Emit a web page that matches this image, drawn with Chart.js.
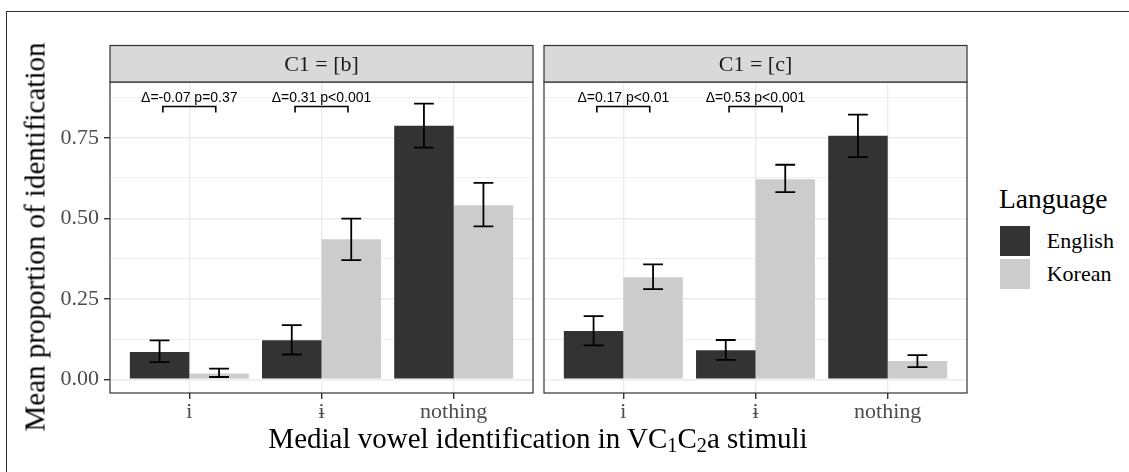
<!DOCTYPE html>
<html lang="en">
<head>
<meta charset="UTF-8">
<title>Medial vowel identification</title>
<script src="https://cdn.jsdelivr.net/npm/chart.js"></script>
<style>
  body { margin: 0; background: #fff; }
  #page { position: relative; width: 1129px; height: 472px; overflow: hidden; font-family: 'Liberation Serif', 'DejaVu Serif', serif; }
  #frame { position: absolute; left: 6px; top: 11px; width: 1130px; height: 470px; border-top: 1.5px solid #333; border-left: 1.5px solid #333; }
  canvas { position: absolute; top: 0; }
  .txt { position: absolute; white-space: nowrap; line-height: 1; color: #000; }
  .key { position: absolute; width: 30px; height: 30px; }
  sub { font-size: 0.7em; line-height: 0; vertical-align: -0.22em; }
</style>
</head>
<body>
<div id="page">
  <div id="frame"></div>
  <canvas id="panelB" width="540" height="472" style="left:0"></canvas>
  <canvas id="panelC" width="440" height="472" style="left:540px"></canvas>
  <div class="txt" id="ytitle" style="left:35px; top:237px; font-size:29px; transform:translate(-50%,-50%) rotate(-90deg);">Mean proportion of identification</div>
  <div class="txt" id="xtitle" style="left:538px; top:423.7px; font-size:29px; transform:translateX(-50%);">Medial vowel identification in VC<sub>1</sub>C<sub>2</sub>a stimuli</div>
  <div id="legend"></div>
</div>

<script>
  // categories and series
  const categories = ['i', 'ɨ', 'nothing'];
  const languages = ['English', 'Korean'];
  const legendTitle = 'Language';
  const fills = ['#333333', '#CCCCCC'];

  // C1 = [b]
  const bEnglish   = [0.085, 0.121, 0.787];
  const bEnglishLo = [0.053, 0.077, 0.719];
  const bEnglishHi = [0.121, 0.168, 0.856];
  const bKorean    = [0.018, 0.435, 0.540];
  const bKoreanLo  = [0.007, 0.370, 0.475];
  const bKoreanHi  = [0.033, 0.499, 0.610];
  const bNotes = ['Δ=-0.07 p=0.37', 'Δ=0.31 p<0.001', ''];

  // C1 = [c]
  const cEnglish   = [0.150, 0.090, 0.756];
  const cEnglishLo = [0.105, 0.060, 0.690];
  const cEnglishHi = [0.196, 0.122, 0.822];
  const cKorean    = [0.317, 0.621, 0.057];
  const cKoreanLo  = [0.280, 0.581, 0.038];
  const cKoreanHi  = [0.357, 0.666, 0.075];
  const cNotes = ['Δ=0.17 p<0.01', 'Δ=0.53 p<0.001', ''];

  const yTicks = [0, 0.125, 0.25, 0.375, 0.5, 0.625, 0.75, 0.875];
  const yMajor = [0, 0.25, 0.5, 0.75];

  const isMajor = v => yMajor.some(m => Math.abs(m - v) < 1e-9);

  // strip, panel border, error bars and the Δ brackets
  const facetPlugin = {
    id: 'facet',
    afterDraw(chart, args, opts) {
      const ctx = chart.ctx;
      const a = chart.chartArea;
      const xs = chart.scales.x, ys = chart.scales.y;

      // error bars
      ctx.save();
      ctx.strokeStyle = '#000';
      ctx.lineWidth = 1.8;
      const half = xs.getPixelForValue(1.075) - xs.getPixelForValue(1);
      for (let d = 0; d < 2; d++) {
        const meta = chart.getDatasetMeta(d);
        meta.data.forEach((bar, j) => {
          const y1 = ys.getPixelForValue(opts.lo[d][j]);
          const y2 = ys.getPixelForValue(opts.hi[d][j]);
          ctx.beginPath();
          ctx.moveTo(bar.x, y1); ctx.lineTo(bar.x, y2);
          ctx.moveTo(bar.x - half, y1); ctx.lineTo(bar.x + half, y1);
          ctx.moveTo(bar.x - half, y2); ctx.lineTo(bar.x + half, y2);
          ctx.stroke();
        });
      }

      // brackets with labels
      ctx.font = '14px "Liberation Sans", Arial, sans-serif';
      ctx.fillStyle = '#000';
      ctx.textAlign = 'center';
      ctx.textBaseline = 'alphabetic';
      ctx.lineWidth = 1.6;
      opts.notes.forEach((txt, j) => {
        if (!txt) return;
        const c = j + 1;
        const x1 = xs.getPixelForValue(c - 0.2), x2 = xs.getPixelForValue(c + 0.2);
        const yl = ys.getPixelForValue(0.847), yt = ys.getPixelForValue(0.828);
        ctx.beginPath();
        ctx.moveTo(x1, yt); ctx.lineTo(x1, yl); ctx.lineTo(x2, yl); ctx.lineTo(x2, yt);
        ctx.stroke();
        ctx.fillText(txt, xs.getPixelForValue(c), ys.getPixelForValue(0.861));
      });

      // panel border
      ctx.strokeStyle = '#333';
      ctx.lineWidth = 1.2;
      ctx.strokeRect(a.left, a.top, a.right - a.left, a.bottom - a.top);

      // strip
      const sTop = 45.5;
      ctx.fillStyle = '#D9D9D9';
      ctx.fillRect(a.left, sTop, a.right - a.left, a.top - sTop);
      ctx.strokeRect(a.left, sTop, a.right - a.left, a.top - sTop);
      ctx.fillStyle = '#1A1A1A';
      ctx.font = '22px "Liberation Serif", serif';
      ctx.textBaseline = 'middle';
      ctx.fillText(opts.strip, (a.left + a.right) / 2, (sTop + a.top) / 2 + 1);
      ctx.restore();
    }
  };

  function makePanel(id, strip, eng, kor, lo, hi, notes, first) {
    const toPts = vals => vals.map((v, i) => ({x: i + 1, y: v}));
    return new Chart(document.getElementById(id), {
      type: 'bar',
      data: {
        datasets: [
          {label: languages[0], data: toPts(eng), backgroundColor: fills[0]},
          {label: languages[1], data: toPts(kor), backgroundColor: fills[1]}
        ]
      },
      options: {
        responsive: false,
        animation: false,
        events: [],
        categoryPercentage: 0.9,
        barPercentage: 1.0,
        layout: {padding: {top: 82, bottom: 0, left: first ? 0 : 4, right: first ? 7 : 13}},
        plugins: {
          legend: {display: false},
          tooltip: {enabled: false},
          facet: {strip: strip, lo: lo, hi: hi, notes: notes}
        },
        scales: {
          x: {
            type: 'linear',
            min: 0.4,
            max: 3.6,
            offset: false,
            afterBuildTicks: s => { s.ticks = categories.map((c, i) => ({value: i + 1})); },
            afterFit: s => { s.height = 79; },
            ticks: {
              autoSkip: false,
              maxRotation: 0,
              padding: 0,
              color: '#4D4D4D',
              font: {family: 'Liberation Serif', size: 22},
              callback: v => categories[v - 1]
            },
            grid: {offset: false, color: '#EBEBEB', lineWidth: 1.4, tickLength: 6, tickColor: '#333', tickWidth: 1.4},
            border: {display: false}
          },
          y: {
            min: -0.0426,
            max: 0.923,
            afterBuildTicks: s => { s.ticks = yTicks.map(v => ({value: v})); },
            afterFit: s => { s.width = first ? 110 : 0; },
            ticks: {
              display: first,
              autoSkip: false,
              padding: 5,
              color: '#4D4D4D',
              font: {family: 'Liberation Serif', size: 22},
              callback: v => isMajor(v) ? v.toFixed(2) : ''
            },
            grid: {
              color: '#EBEBEB',
              lineWidth: c => isMajor(c.tick.value) ? 1.4 : 0.8,
              drawTicks: first,
              tickLength: 6,
              tickColor: c => isMajor(c.tick.value) ? '#333' : 'rgba(0,0,0,0)',
              tickWidth: 1.4
            },
            border: {display: false}
          }
        }
      },
      plugins: [facetPlugin]
    });
  }

  makePanel('panelB', 'C1 = [b]', bEnglish, bKorean,
    [bEnglishLo, bKoreanLo], [bEnglishHi, bKoreanHi], bNotes, true);
  makePanel('panelC', 'C1 = [c]', cEnglish, cKorean,
    [cEnglishLo, cKoreanLo], [cEnglishHi, cKoreanHi], cNotes, false);

  // legend
  const legend = document.getElementById('legend');
  let html = `<div class="txt" style="left:999px; top:${208.3 - 0.8375 * 27.5}px; font-size:27.5px;">${legendTitle}</div>`;
  const keyTops = [226, 258.7];
  const baselines = [248.3, 281.7];
  languages.forEach((name, i) => {
    html += `<div class="key" style="left:1000px; top:${keyTops[i]}px; background:${fills[i]};"></div>`;
    html += `<div class="txt" style="left:1046.7px; top:${baselines[i] - 0.8375 * 22}px; font-size:22px;">${name}</div>`;
  });
  legend.innerHTML = html;
</script>
</body>
</html>
